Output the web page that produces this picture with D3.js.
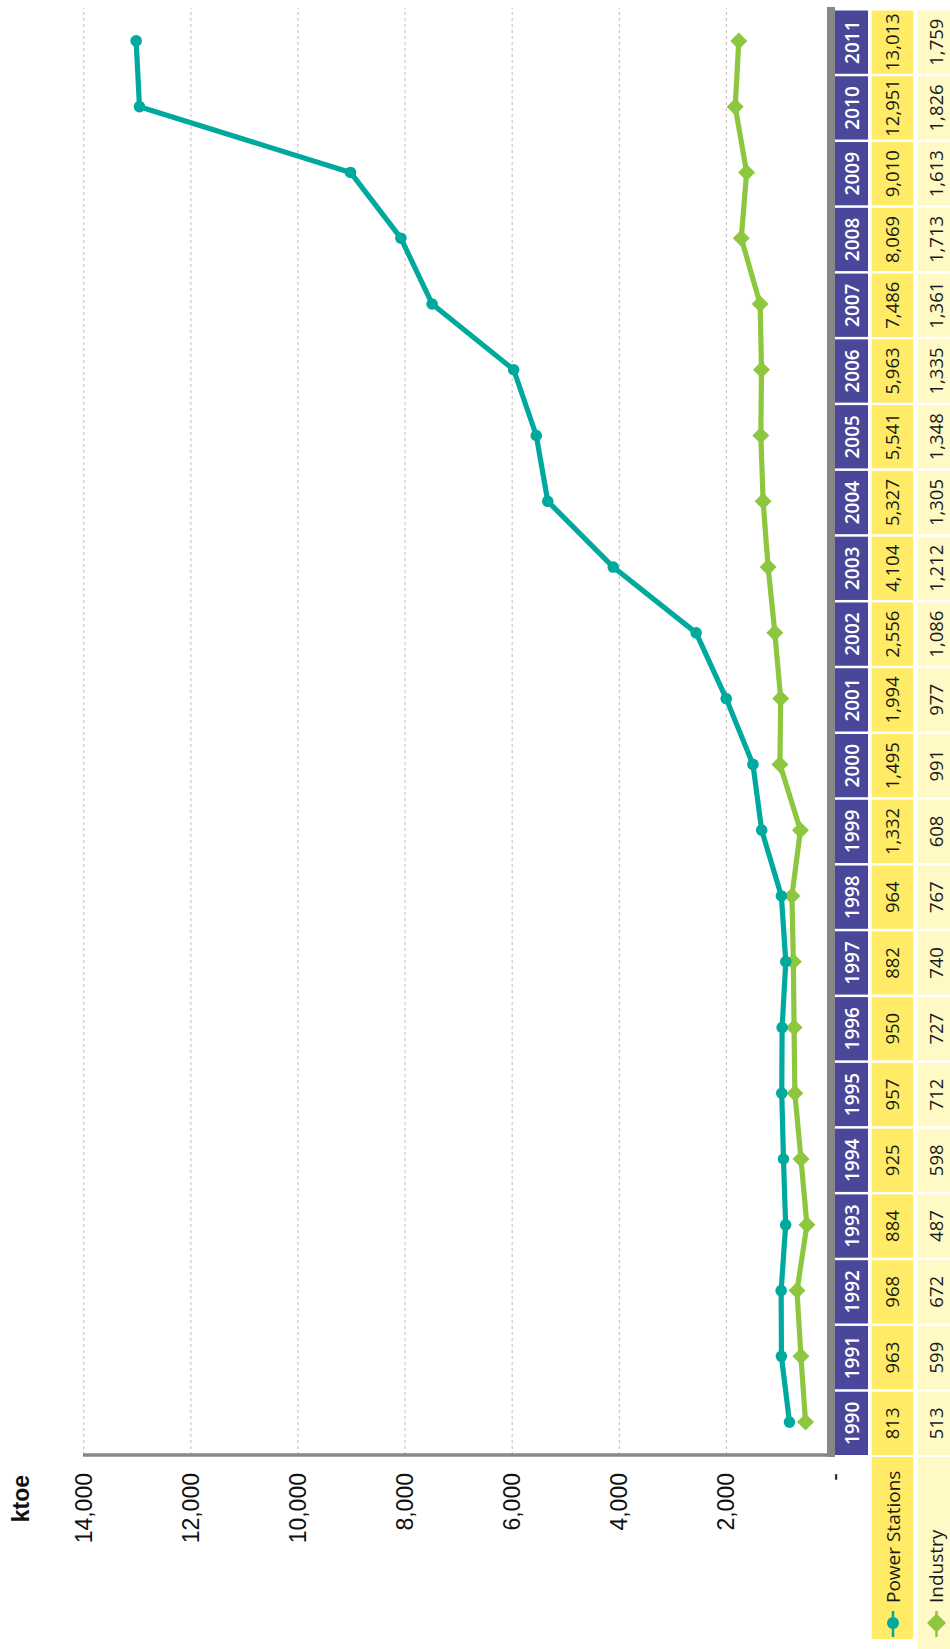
<!DOCTYPE html>
<html>
<head>
<meta charset="utf-8">
<script src="https://cdn.jsdelivr.net/npm/d3@7"></script>
<style>
  html, body { margin: 0; padding: 0; background: #ffffff; }
  svg { display: block; }
</style>
</head>
<body>
<svg id="chart" width="950" height="1649"></svg>
<script>
// Renewable energy use by sector, ktoe (1990–2011)
const years = ["1990","1991","1992","1993","1994","1995","1996","1997","1998","1999","2000",
               "2001","2002","2003","2004","2005","2006","2007","2008","2009","2010","2011"];
const powerStations = [813, 963, 968, 884, 925, 957, 950, 882, 964, 1332, 1495,
                       1994, 2556, 4104, 5327, 5541, 5963, 7486, 8069, 9010, 12951, 13013];
const industry = [513, 599, 672, 487, 598, 712, 727, 740, 767, 608, 991,
                  977, 1086, 1212, 1305, 1348, 1335, 1361, 1713, 1613, 1826, 1759];
const seriesNames = ["Power Stations", "Industry"];
const valueTicks = [0, 2000, 4000, 6000, 8000, 10000, 12000, 14000];
const axisTitle = "ktoe";

const W = 950, H = 1649;
const colors = {
  power: "#00A99D",
  industry: "#8DC63F",
  header: "#4A4699",
  powerCell: "#FFEB66",
  industryCell: "#FFF9C6",
  axis: "#878787",
  grid: "#BDBDBD"
};

const svg = d3.select("#chart");

// The chart is laid out landscape and turned a quarter turn counter-clockwise:
// inside `g`, x runs along the years and y along the values / table rows.
const g = svg.append("g").attr("transform", `translate(0,${H}) rotate(-90)`);

const x = d3.scaleBand().domain(years).range([194, 1641]).padding(0);
const y = d3.scaleLinear().domain([0, 14000]).range([833, 83.3]);
const bw = x.bandwidth();
const cx = d => x(d) + bw / 2;

const fmt = d3.format(",");

// dashed gridlines
const grid = g.append("g")
  .attr("transform", "translate(194,0)")
  .call(d3.axisLeft(y).tickValues(valueTicks.filter(v => v > 0)).tickSize(-(1641 - 194)).tickFormat(""));
grid.select(".domain").remove();
grid.selectAll("line")
  .attr("stroke", colors.grid)
  .attr("stroke-width", 1)
  .attr("stroke-dasharray", "3,3");

// value axis labels
const yAxis = g.append("g")
  .attr("transform", "translate(194,0)")
  .call(d3.axisLeft(y).tickValues(valueTicks).tickSize(0).tickPadding(18)
        .tickFormat(v => v === 0 ? "-" : fmt(v)));
yAxis.select(".domain").remove();
yAxis.selectAll("text")
  .attr("font-family", "'Liberation Sans', Arial, sans-serif")
  .attr("font-size", 23)
  .attr("fill", "#111")
  .attr("dy", "0.35em");

// axis title
g.append("text")
  .attr("x", 174)
  .attr("y", 29)
  .attr("text-anchor", "end")
  .attr("font-family", "'Liberation Sans', Arial, sans-serif")
  .attr("font-weight", "bold")
  .attr("font-size", 23)
  .attr("fill", "#111")
  .text(axisTitle);

// value axis line
g.append("line")
  .attr("x1", 194).attr("x2", 194)
  .attr("y1", 83).attr("y2", 835)
  .attr("stroke", colors.axis)
  .attr("stroke-width", 3.5);

// category axis line
g.append("line")
  .attr("x1", 192).attr("x2", 1642)
  .attr("y1", 831).attr("y2", 831)
  .attr("stroke", colors.axis)
  .attr("stroke-width", 8);

// series lines
const line = d3.line().x((d, i) => cx(years[i])).y(d => y(d));

g.append("path")
  .datum(industry)
  .attr("fill", "none")
  .attr("stroke", colors.industry)
  .attr("stroke-width", 5.2)
  .attr("stroke-linejoin", "round")
  .attr("d", line);

g.append("path")
  .datum(powerStations)
  .attr("fill", "none")
  .attr("stroke", colors.power)
  .attr("stroke-width", 5.2)
  .attr("stroke-linejoin", "round")
  .attr("d", line);

const diamond = (px, py, r) => `M${px},${py - r}L${px + r},${py}L${px},${py + r}L${px - r},${py}Z`;

g.append("g").selectAll("path")
  .data(industry)
  .join("path")
  .attr("d", (d, i) => diamond(cx(years[i]), y(d), 8.5))
  .attr("fill", colors.industry);

g.append("g").selectAll("circle")
  .data(powerStations)
  .join("circle")
  .attr("cx", (d, i) => cx(years[i]))
  .attr("cy", d => y(d))
  .attr("r", 5.8)
  .attr("fill", colors.power);

// data table
const rows = [
  { top: 835, bottom: 868, fill: colors.header },
  { top: 871.7, bottom: 913.3, fill: colors.powerCell },
  { top: 917.7, bottom: 955, fill: colors.industryCell }
];
const cellGap = 2.5;

rows.forEach(r => {
  g.append("g").selectAll("rect")
    .data(years)
    .join("rect")
    .attr("x", d => x(d))
    .attr("width", bw - cellGap)
    .attr("y", r.top)
    .attr("height", r.bottom - r.top)
    .attr("fill", r.fill);
});

const tableFont = "'Open Sans', 'Noto Sans', sans-serif";

g.append("g").selectAll("text")
  .data(years)
  .join("text")
  .attr("x", d => x(d) + (bw - cellGap) / 2)
  .attr("y", 852)
  .attr("dy", "0.36em")
  .attr("text-anchor", "middle")
  .attr("font-family", tableFont)
  .attr("font-weight", 600)
  .attr("font-size", 19)
  .attr("fill", "#ffffff")
  .text(d => d);

[[powerStations, 892.5], [industry, 936]].forEach(([vals, yy]) => {
  g.append("g").selectAll("text")
    .data(vals)
    .join("text")
    .attr("x", (d, i) => x(years[i]) + (bw - cellGap) / 2)
    .attr("y", yy)
    .attr("dy", "0.36em")
    .attr("text-anchor", "middle")
    .attr("font-family", tableFont)
    .attr("font-size", 18.5)
    .attr("fill", "#1a1a1a")
    .text(d => fmt(d));
});

// legend keys in the table's row headers
g.append("rect").attr("x", 10).attr("width", 182).attr("y", 871.7).attr("height", 41.6).attr("fill", colors.powerCell);
g.append("rect").attr("x", -5).attr("width", 197).attr("y", 917.7).attr("height", 40).attr("fill", colors.industryCell);

const legend = [
  { name: seriesNames[0], yy: 893, color: colors.power, shape: "circle" },
  { name: seriesNames[1], yy: 936.5, color: colors.industry, shape: "diamond" }
];
legend.forEach(l => {
  g.append("line")
    .attr("x1", 12).attr("x2", 38)
    .attr("y1", l.yy).attr("y2", l.yy)
    .attr("stroke", l.color).attr("stroke-width", 2.5);
  if (l.shape === "circle") {
    g.append("circle").attr("cx", 26).attr("cy", l.yy).attr("r", 6).attr("fill", l.color);
  } else {
    g.append("path").attr("d", diamond(26, l.yy, 9.5)).attr("fill", l.color);
  }
  g.append("text")
    .attr("x", 46)
    .attr("y", l.yy)
    .attr("dy", "0.36em")
    .attr("font-family", tableFont)
    .attr("font-size", 19)
    .attr("fill", "#1a1a1a")
    .text(l.name);
});
</script>
</body>
</html>
